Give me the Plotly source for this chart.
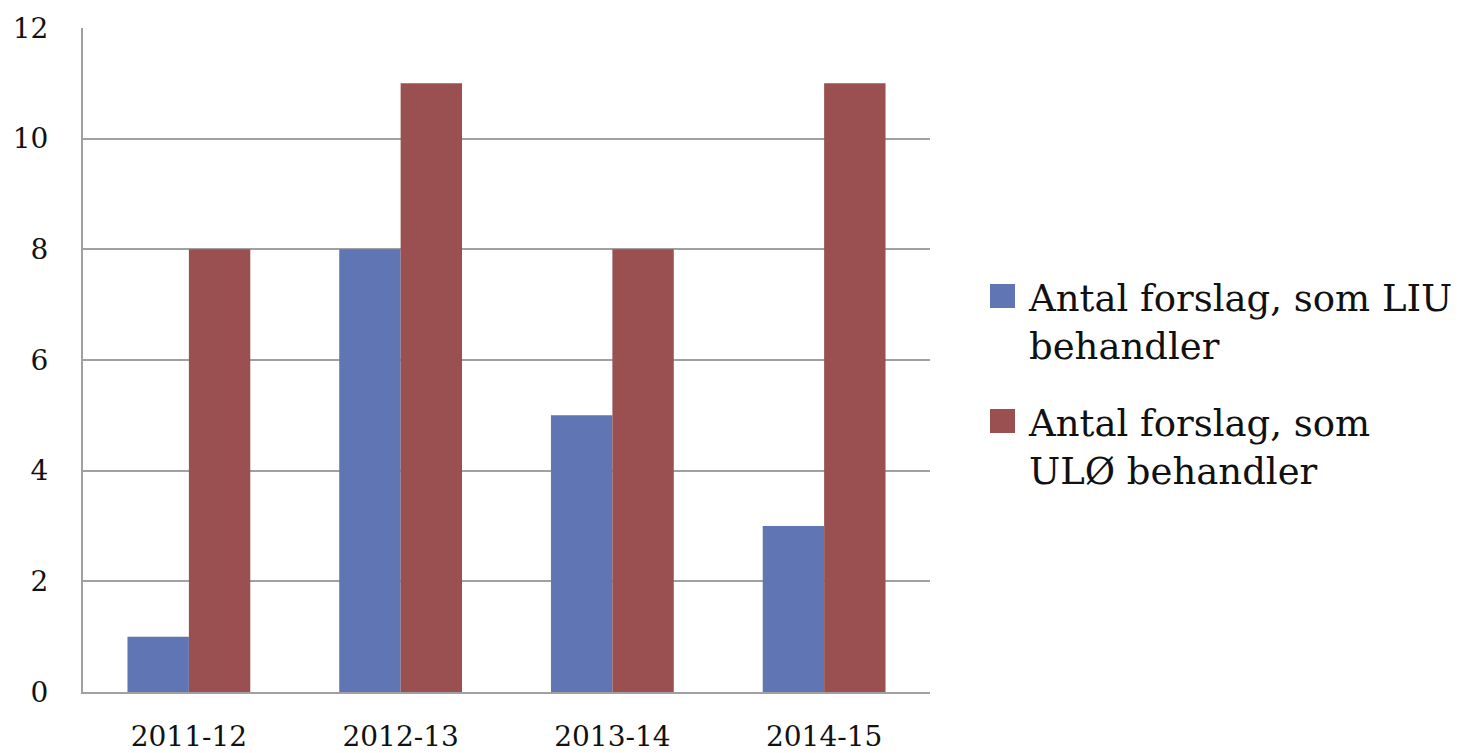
import plotly.graph_objects as go

categories = ["2011-12", "2012-13", "2013-14", "2014-15"]
liu_values = [1, 8, 5, 3]
ulo_values = [8, 11, 8, 11]
series_names = ["Antal forslag, som LIU<br>behandler", "Antal forslag, som<br>ULØ behandler"]
series_colors = ["#5F75B4", "#9A5050"]
y_ticks = [0, 2, 4, 6, 8, 10, 12]

font_family = "DejaVu Serif, Liberation Serif, serif"

W, H = 1460, 753
ML, MR, MT, MB = 83, 530, 28, 61
PW, PH = W - ML - MR, H - MT - MB


def px_x(x):
    return (x - ML) / PW


def px_y(y):
    return (H - MB - y) / PH


fig = go.Figure()
fig.add_trace(go.Bar(x=categories, y=liu_values, name=series_names[0],
                     marker=dict(color=series_colors[0], line=dict(width=0)),
                     showlegend=False))
fig.add_trace(go.Bar(x=categories, y=ulo_values, name=series_names[1],
                     marker=dict(color=series_colors[1], line=dict(width=0)),
                     showlegend=False))

# manual legend (layout only)
legend_tops = [284, 409]
for name, color, top in zip(series_names, series_colors, legend_tops):
    fig.add_shape(type="rect", xref="paper", yref="paper",
                  x0=px_x(990), x1=px_x(1015), y0=px_y(top + 24), y1=px_y(top),
                  fillcolor=color, line=dict(width=0))
    fig.add_annotation(xref="paper", yref="paper", x=px_x(1026), y=px_y(top - 9),
                       xanchor="left", yanchor="top", align="left",
                       text=name, showarrow=False,
                       font=dict(size=37, family=font_family, color="#111111"))

fig.update_layout(
    width=W, height=H,
    margin=dict(l=ML, r=MR, t=MT, b=MB),
    paper_bgcolor="white", plot_bgcolor="white",
    barmode="group", bargap=0.42, bargroupgap=0,
    font=dict(family=font_family, color="#111111"),
    showlegend=False,
)
fig.update_xaxes(type="category", showline=True, linecolor="#A0A0A0", linewidth=2,
                 tickfont=dict(size=28), ticks="", ticklabelstandoff=18,
                 showgrid=False, automargin=False)
fig.update_yaxes(range=[0, 12], tickvals=y_ticks, showline=True,
                 linecolor="#A0A0A0", linewidth=2,
                 gridcolor="#A0A0A0", gridwidth=1.5,
                 tickfont=dict(size=28), ticks="", ticklabelstandoff=27,
                 zeroline=False, automargin=False)

fig.write_html("out.html", config={"displayModeBar": False},
               post_script="document.body.style.margin='0';document.body.style.overflow='hidden';")
